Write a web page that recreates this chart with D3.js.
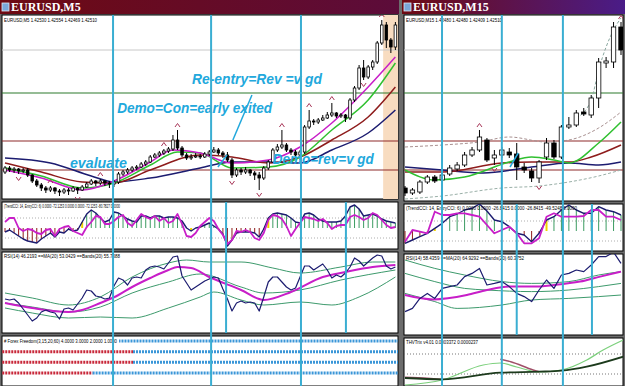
<!DOCTYPE html>
<html>
<head>
<meta charset="utf-8">
<script src="https://cdn.jsdelivr.net/npm/d3@7"></script>
<style>
  body { margin: 0; background: #fff; }
  text { font-family: "Liberation Sans", Arial, sans-serif; }
</style>
</head>
<body>
<svg id="fig" width="625" height="386"></svg>
<script>
// ---------- data ----------

// EURUSD M5 candles: open, high, low, close
const m5Candles = [
  [1.4176,1.4182,1.4174,1.4180],[1.4180,1.4182,1.4176,1.4178],[1.4178,1.4181,1.4175,1.4179],
  [1.4179,1.4180,1.4174,1.4177],[1.4177,1.4180,1.4175,1.4178],[1.4178,1.4180,1.4171,1.4173],
  [1.4173,1.4174,1.4165,1.4167],[1.4167,1.4169,1.4161,1.4163],[1.4163,1.4165,1.4157,1.4160],
  [1.4160,1.4162,1.4155,1.4158],[1.4158,1.4162,1.4156,1.4160],[1.4160,1.4161,1.4154,1.4157],
  [1.4157,1.4159,1.4152,1.4156],[1.4156,1.4160,1.4154,1.4158],[1.4158,1.4160,1.4153,1.4157],
  [1.4157,1.4162,1.4156,1.4160],[1.4160,1.4161,1.4154,1.4158],[1.4158,1.4163,1.4157,1.4161],
  [1.4161,1.4166,1.4160,1.4164],[1.4164,1.4169,1.4163,1.4167],[1.4167,1.4168,1.4162,1.4165],
  [1.4165,1.4169,1.4163,1.4167],[1.4167,1.4168,1.4162,1.4165],[1.4165,1.4167,1.4160,1.4164],
  [1.4164,1.4168,1.4161,1.4166],[1.4166,1.4176,1.4164,1.4174],[1.4174,1.4178,1.4172,1.4176],
  [1.4176,1.4180,1.4174,1.4178],[1.4178,1.4182,1.4176,1.4180],[1.4180,1.4183,1.4178,1.4181],
  [1.4181,1.4186,1.4180,1.4184],[1.4184,1.4188,1.4182,1.4186],[1.4186,1.4193,1.4185,1.4191],
  [1.4191,1.4195,1.4190,1.4193],[1.4193,1.4197,1.4191,1.4195],[1.4195,1.4199,1.4193,1.4197],
  [1.4197,1.4201,1.4195,1.4199],[1.4199,1.4213,1.4197,1.4208],[1.4208,1.4218,1.4198,1.4200],
  [1.4200,1.4202,1.4191,1.4193],[1.4193,1.4195,1.4188,1.4190],[1.4190,1.4194,1.4188,1.4191],
  [1.4191,1.4195,1.4190,1.4192],[1.4192,1.4194,1.4189,1.4191],[1.4191,1.4196,1.4190,1.4194],
  [1.4194,1.4198,1.4192,1.4196],[1.4196,1.4201,1.4195,1.4198],[1.4198,1.4200,1.4193,1.4195],
  [1.4195,1.4197,1.4190,1.4193],[1.4193,1.4196,1.4186,1.4188],[1.4188,1.4190,1.4170,1.4173],
  [1.4173,1.4180,1.4171,1.4178],[1.4178,1.4180,1.4173,1.4176],[1.4176,1.4181,1.4174,1.4178],
  [1.4178,1.4179,1.4172,1.4175],[1.4175,1.4177,1.4168,1.4173],[1.4173,1.4176,1.4158,1.4170],
  [1.4170,1.4182,1.4168,1.4180],[1.4180,1.4188,1.4178,1.4186],[1.4186,1.4200,1.4185,1.4198],
  [1.4198,1.4204,1.4196,1.4201],[1.4201,1.4218,1.4199,1.4203],[1.4203,1.4205,1.4196,1.4198],
  [1.4198,1.4200,1.4193,1.4196],[1.4196,1.4198,1.4190,1.4193],[1.4193,1.4198,1.4188,1.4196],
  [1.4196,1.4223,1.4194,1.4221],[1.4221,1.4238,1.4219,1.4227],[1.4227,1.4229,1.4223,1.4226],
  [1.4226,1.4230,1.4224,1.4228],[1.4228,1.4233,1.4227,1.4230],[1.4230,1.4236,1.4229,1.4233],
  [1.4233,1.4245,1.4231,1.4235],[1.4235,1.4236,1.4230,1.4232],[1.4232,1.4235,1.4230,1.4233],
  [1.4233,1.4234,1.4226,1.4230],[1.4230,1.4250,1.4228,1.4248],[1.4248,1.4262,1.4246,1.4260],
  [1.4260,1.4283,1.4258,1.4280],[1.4280,1.4288,1.4268,1.4271],[1.4271,1.4283,1.4269,1.4281],
  [1.4281,1.4288,1.4278,1.4286],[1.4286,1.4307,1.4284,1.4305],[1.4305,1.4328,1.4303,1.4323],
  [1.4323,1.4326,1.4300,1.4308],[1.4308,1.4310,1.4295,1.4301],[1.4301,1.4326,1.4298,1.4323]
];
const m5FractalUp = [10, 21, 35, 38, 61, 67, 72, 83];
const m5FractalDown = [3, 12, 16, 50, 56, 79];

// moving averages, sampled as [bar, price]
const m5MaNavy = [[0,1.4190],[10,1.4185],[19,1.4172],[24,1.4166],[32,1.4170],[43,1.4180],[50,1.4186],[58,1.4186],[65,1.4185],[72,1.4198],[80,1.4215],[86,1.4238]];
const m5MaBrown = [[0,1.4185],[8,1.4176],[17,1.4166],[24,1.4165],[32,1.4178],[43,1.4193],[50,1.4191],[58,1.4185],[65,1.4191],[72,1.4208],[80,1.4231],[86,1.4261]];
const m5MaGreen = [[0,1.4180],[8,1.4172],[17,1.4160],[24,1.4165],[32,1.4183],[38,1.4196],[43,1.4195],[50,1.4180],[58,1.4181],[65,1.4191],[72,1.4218],[80,1.4248],[86,1.4285]];
const m5MaMagenta = [[0,1.4178],[8,1.4170],[17,1.4158],[24,1.4167],[32,1.4186],[37,1.4198],[43,1.4195],[50,1.4185],[58,1.4188],[65,1.4201],[72,1.4225],[80,1.4261],[86,1.4291]];

const priceLevels = [1.4298, 1.4255, 1.4207, 1.4178];

const m5TrendCci = [-40,-20,-50,-80,-110,-130,-140,-150,-110,-80,-50,-90,-40,-50,-10,-30,-20,60,140,180,
  150,100,60,80,160,150,120,90,70,60,120,120,100,120,120,100,110,110,100,70,
  0,-30,0,10,30,50,20,-10,-60,-180,-120,-50,-40,-40,-40,-50,-90,-10,100,140,
  150,140,130,100,60,50,140,150,130,90,70,60,60,60,70,120,210,230,190,120,
  130,140,120,90,70,60,50];
const m5EntryCci = [60,100,100,0,-30,-10,-20,-50,-60,-20,-10,-80,-10,10,20,-30,-50,-70,10,60,
  120,110,40,40,70,110,130,50,20,80,140,110,90,120,70,100,50,70,140,40,
  -80,-90,-50,20,60,100,70,-10,-70,-160,-120,-30,-40,-20,-40,-100,-120,-50,80,130,
  120,90,20,-80,-10,50,110,100,90,70,90,50,-10,20,30,30,110,130,110,80,
  100,150,130,80,30,0,10];

const m5Rsi = [47,46.5,47,45,42,39,36,37.5,40.5,41.5,40.5,40,37,42,42.5,41.5,44.5,47.5,51.5,51,
  48.5,48,47,47.5,53.5,57.5,56.5,54,57.5,58,57.5,61.5,63,63.5,63,62,65,68,68.5,58.5,
  55,51.5,53,54.5,56,57,58,57.5,52,47,41,45,46,45,45.5,45,41,48,55.5,58,
  58,55.5,53,51.5,52.5,58,63.5,63.5,61.5,63,64.5,61.5,57.5,59,58,60,63,67.5,66,63.5,
  65.5,67.5,69,68.5,63.5,62,63];
const m5RsiMa = [[0,45],[6,42.5],[14,40.5],[17,41.5],[21,45],[25,49],[28,53],[32,57.5],[36,61.5],[38,63],[41,62.5],[45,58],[52,51.5],[57,46.5],[63,50.5],[70,58],[75,60.5],[81,63],[86,64]];
const m5BandUp = [[0,50],[6,47.5],[14,44],[21,48],[28,58],[36,65],[40,66.5],[45,65.5],[52,65.5],[59,62.5],[65,60],[74,63],[81,65.5],[86,65.5]];
const m5BandMid = [[0,45],[6,43],[14,40.5],[21,43],[28,50],[36,55.5],[43,59.5],[52,53],[57,50],[65,51.5],[74,56.5],[86,61.5]];
const m5BandLow = [[0,42.5],[6,40],[14,37.5],[21,38],[28,37.5],[36,42.5],[43,48],[46,50.5],[52,46.5],[57,44],[65,45.5],[72,44],[78,48],[86,58]];

// Forex Freedom rows: [direction, fromBar, toBar]  (1 up / -1 down)
const ffRows = [
  [[1, 25, 87]],
  [[-1, -0.6, 28.2], [1, 28.2, 87]],
  [[-1, -0.6, 28.2], [1, 28.2, 87]],
  [[-1, -0.6, 19.3], [1, 19.3, 87]]
];

// EURUSD M15
const m15Candles = [
  [1.4160,1.4162,1.4152,1.4155],[1.4155,1.4160,1.4153,1.4158],[1.4156,1.4168,1.4154,1.4166],
  [1.4166,1.4173,1.4164,1.4171],[1.4171,1.4173,1.4165,1.4167],[1.4168,1.4176,1.4166,1.4173],
  [1.4174,1.4183,1.4172,1.4180],[1.4179,1.4186,1.4177,1.4183],[1.4183,1.4196,1.4181,1.4193],
  [1.4193,1.4201,1.4191,1.4198],[1.4198,1.4218,1.4196,1.4211],[1.4208,1.4210,1.4186,1.4188],
  [1.4190,1.4198,1.4183,1.4193],[1.4193,1.4201,1.4190,1.4198],[1.4196,1.4200,1.4190,1.4193],
  [1.4194,1.4205,1.4168,1.4181],[1.4181,1.4185,1.4175,1.4178],[1.4177,1.4180,1.4166,1.4170],
  [1.4170,1.4188,1.4165,1.4186],[1.4191,1.4210,1.4188,1.4205],[1.4205,1.4208,1.4189,1.4191],
  [1.4191,1.4223,1.4189,1.4221],[1.4221,1.4231,1.4219,1.4223],[1.4223,1.4238,1.4221,1.4235],
  [1.4236,1.4240,1.4232,1.4234],[1.4233,1.4253,1.4230,1.4250],[1.4250,1.4290,1.4240,1.4286],
  [1.4285,1.4291,1.4280,1.4287],[1.4286,1.4326,1.4280,1.4321],[1.4321,1.4326,1.4293,1.4298]
];
const m15FractalUp = [10, 29];
const m15FractalDown = [12, 18];
const m15MaNavy = [[0,1.4181],[5,1.4178],[10.5,1.4175],[17,1.4181],[22,1.4185],[26,1.4183],[29,1.4186]];
const m15MaBrown = [[0,1.4176],[5,1.4176],[13,1.4185],[17,1.4186],[22,1.4186],[25,1.4191],[29,1.4203]];
const m15MaGreen = [[0,1.4178],[4,1.4168],[8,1.4171],[14,1.4186],[17,1.4191],[20,1.4188],[22,1.4185],[26,1.4205],[29,1.4226]];
const m15BandUp = [[0,1.4201],[5,1.4203],[10,1.4206],[14,1.4211],[19,1.4206],[22,1.4208],[26,1.4220],[29,1.4236]];
const m15BandLow = [[0,1.4149],[5,1.4152],[13,1.4160],[18,1.4162],[22,1.4166],[26,1.4172],[29,1.4178]];
const m15BandFast = [[23,1.4230],[25,1.4248],[26,1.4278],[28,1.4318],[29,1.4330]];

const m15TrendCci = [-123,-90,-57,-23,27,77,143,170,210,227,270,200,110,93,43,-23,-40,-107,-23,110,
  143,210,260,210,177,177,243,210,193,160];
const m15EntryCci = [-107,10,-7,-23,193,160,160,177,177,160,143,60,-23,10,43,-23,-123,-123,-73,143,
  177,143,143,143,150,210,210,143,143,110];

const m15Rsi = [42.7,44.3,49.3,51.8,49.3,54.3,55.2,56,60.2,61.8,64.3,56,56.8,57.7,55.2,51.8,50.2,47.7,53.5,58.5,
  54.3,61,61.8,63.5,62.7,66,70.2,70.2,72.4,66.8];
const m15RsiMa = [[0,51],[3.8,48.8],[8.3,51],[11,53.5],[14,55.2],[17.2,55.2],[20,56],[23.5,57.7],[26.2,60.2],[29,62.7]];
const m15BandRsiUp = [[0,68.5],[4,64.3],[8,61],[13,57.7],[17,56.8],[22,57.7],[26,61],[29,62.7]];
const m15BandRsiMid = [[0,61.8],[4,57.7],[8,54.3],[11,53.5],[17,52.7],[22,53.5],[26,55.2],[29,56.8]];
const m15BandRsiLow = [[0,51.8],[4,47.7],[7,44.3],[13,46],[17,48.5],[22,49.3],[26,50.2],[29,51]];

const thvFast = [[0,0.1],[5,0.6],[10.5,2.1],[12.8,2.3],[15,1.9],[18,1.4],[21,1.6],[24.4,2.6],[26.6,3.6],[29.3,4.6]];
const thvTrix = [[0,0.8],[5,0.67],[12.8,1.33],[18,1.43],[21,1.53],[24.4,1.93],[29.3,2.93]];
const thvSignalA = [[0,0.87],[3,0.77],[5,0.67]];
const thvSignalB = [[12.8,2.67],[14.2,2.43],[17.2,1.6],[18,1.43]];

// marked times (bar positions) of the vertical lines
const m5FullLines = [23.8, 45.4, 65.2];
const m5SubLines = [48.7, 75.1];
const m15FullLines = [4.97, 13.0, 21.2];
const m15SubLines = [15.0, 25.1];
const m5Shade = [83.3, 88];

const notes = [
  { t: "Re-entry=Rev =v gd", bar: 41.2, p: 1.4264, w: 130 },
  { t: "Demo=Con=early exited", bar: 24.7, p: 1.4235, w: 155 },
  { t: "evaluate", bar: 14.3, p: 1.4180, w: 57 },
  { t: "Demo=rev=v gd", bar: 59.0, p: 1.4184, w: 101 }
];
const m5Pointers = [[[54.4,1.4253],[50.2,1.4208]], [[46.9,1.4181],[48.9,1.4193]]];
const m15Pointers = [[[14.1,1.4181],[15.2,1.4195]]];

function makeChart() {
  const svg = d3.select("#fig");
  const defs = svg.append("defs");

  const C = {
    navy: "#1c1c70", brown: "#8e1c1c", green: "#30c030", magenta: "#c81ec8",
    cyan: "#3aaed2", band: "#3d9a6c", red: "#c8283a", blue: "#3a96d8",
    histUp: "#3c9c62", histDn: "#8e1c1c", yellow: "#f0d200", frac: "#a83658"
  };

  // frame
  svg.append("rect").attr("width", 625).attr("height", 386).attr("fill", "#6c6c6c");

  function titleBar(x0, x1, label, gid, c2) {
    const gr = defs.append("linearGradient").attr("id", gid);
    gr.append("stop").attr("offset", "0%").attr("stop-color", "#6e0a12");
    gr.append("stop").attr("offset", "100%").attr("stop-color", c2);
    svg.append("rect").attr("x", x0).attr("y", 0).attr("width", x1 - x0).attr("height", 14)
      .attr("fill", `url(#${gid})`);
    svg.append("rect").attr("x", x0 + 2).attr("y", 3).attr("width", 7).attr("height", 8)
      .attr("fill", "#7aa8d8").attr("stroke", "#dfe8f5").attr("stroke-width", 0.8);
    svg.append("text").attr("x", x0 + 11).attr("y", 11).text(label)
      .attr("fill", "#fff").attr("font-size", 12).attr("font-weight", "bold")
      .style("font-family", "'Liberation Serif', 'DejaVu Serif', serif");
  }
  titleBar(0, 399, "EURUSD,M5", "tg1", "#5c0c3a");
  titleBar(402, 625, "EURUSD,M15", "tg2", "#4a1c88");

  let clipN = 0;
  function panel(x0, x1, y0, y1) {
    const id = "clip" + (clipN++);
    defs.append("clipPath").attr("id", id).append("rect")
      .attr("x", x0).attr("y", y0).attr("width", x1 - x0).attr("height", y1 - y0);
    svg.append("rect").attr("x", x0).attr("y", y0).attr("width", x1 - x0).attr("height", y1 - y0)
      .attr("fill", "#fff").attr("stroke", "#000").attr("stroke-width", 1);
    return svg.append("g").attr("clip-path", `url(#${id})`);
  }

  function smallLabel(x, y, txt, w) {
    svg.append("text").attr("x", x).attr("y", y).text(txt)
      .attr("font-size", 5.2).attr("fill", "#000")
      .attr("textLength", w).attr("lengthAdjust", "spacingAndGlyphs");
  }

  const sampled = (x, y) => d3.line().x(d => x(d[0])).y(d => y(d[1])).curve(d3.curveMonotoneX);
  const series = (x, y) => d3.line().x((d, i) => x(i)).y(d => y(d));

  function drawLine(g, data, gen, color, w, dash) {
    g.append("path").attr("d", gen(data)).attr("fill", "none")
      .attr("stroke", color).attr("stroke-width", w)
      .attr("stroke-dasharray", dash || null).attr("stroke-linejoin", "round");
  }

  function drawCandles(g, data, x, y, bw) {
    g.append("g").selectAll("line").data(data).join("line")
      .attr("x1", (d, i) => x(i)).attr("x2", (d, i) => x(i))
      .attr("y1", d => y(d[1])).attr("y2", d => y(d[2]))
      .attr("stroke", "#000").attr("stroke-width", 1);
    g.append("g").selectAll("rect").data(data).join("rect")
      .attr("x", (d, i) => x(i) - bw / 2).attr("width", bw)
      .attr("y", d => y(Math.max(d[0], d[3])))
      .attr("height", d => Math.max(1, Math.abs(y(d[0]) - y(d[3]))))
      .attr("fill", d => d[3] >= d[0] ? "#fff" : "#000")
      .attr("stroke", "#000").attr("stroke-width", 0.8);
  }

  function drawFractals(g, candles, ups, downs, x, y) {
    g.append("g").selectAll("path").data(ups).join("path")
      .attr("d", i => { const cx = x(i), cy = y(candles[i][1]) - 5;
        return `M${cx - 2.5},${cy + 2}L${cx},${cy - 1.5}L${cx + 2.5},${cy + 2}`; })
      .attr("fill", "none").attr("stroke", C.frac).attr("stroke-width", 1);
    g.append("g").selectAll("path").data(downs).join("path")
      .attr("d", i => { const cx = x(i), cy = y(candles[i][2]) + 5;
        return `M${cx - 2.5},${cy - 2}L${cx},${cy + 1.5}L${cx + 2.5},${cy - 2}`; })
      .attr("fill", "none").attr("stroke", C.frac).attr("stroke-width", 1);
  }

  function drawLevels(g, x0, x1, y) {
    const cols = ["#c8c8c8", "#2c7a2c", "#8e2a2a", "#8e2a2a"];
    g.append("g").selectAll("line").data(priceLevels).join("line")
      .attr("x1", x0).attr("x2", x1).attr("y1", d => y(d)).attr("y2", d => y(d))
      .attr("stroke", (d, i) => cols[i]).attr("stroke-width", (d, i) => i ? 1.2 : 1);
  }

  function drawCci(g, trend, entry, x, y, x0, x1) {
    g.append("g").selectAll("line").data([-100, 100]).join("line")
      .attr("x1", x0).attr("x2", x1).attr("y1", d => y(d)).attr("y2", d => y(d))
      .attr("stroke", "#999").attr("stroke-dasharray", "1,2").attr("stroke-width", 0.8);
    g.append("g").selectAll("line").data(trend).join("line")
      .attr("x1", (d, i) => x(i)).attr("x2", (d, i) => x(i))
      .attr("y1", y(0)).attr("y2", d => y(d))
      .attr("stroke", (d, i) => {
        const prev = i ? trend[i - 1] : d;
        if (Math.sign(prev) !== Math.sign(d)) return C.yellow;
        return d >= 0 ? C.histUp : C.histDn;
      })
      .attr("stroke-width", (d, i) => (i && Math.sign(trend[i - 1]) !== Math.sign(d)) ? 2 : 1);
    drawLine(g, trend, series(x, y), C.navy, 1.4);
    drawLine(g, entry, series(x, y), C.magenta, 1.8);
  }

  function vlines(bars, x, y0, y1) {
    svg.append("g").selectAll("line").data(bars).join("line")
      .attr("x1", d => x(d)).attr("x2", d => x(d)).attr("y1", y0).attr("y2", y1)
      .attr("stroke", C.cyan).attr("stroke-width", 2);
  }

  // ================= M5 window =================
  const xL = d3.scaleLinear().domain([0, 86]).range([5, 395.4]);
  const yP = d3.scaleLinear().domain([1.4150, 1.4333]).range([198, 15]);

  const gMain = panel(2, 398, 15, 199);
  gMain.append("rect").attr("x", xL(m5Shade[0])).attr("y", 15)
    .attr("width", xL(m5Shade[1]) - xL(m5Shade[0])).attr("height", 184).attr("fill", "#f8dcc0");
  drawLevels(gMain, 2, 398, yP);
  drawLine(gMain, m5MaNavy, sampled(xL, yP), C.navy, 1.5);
  drawLine(gMain, m5MaBrown, sampled(xL, yP), C.brown, 1.5);
  drawLine(gMain, m5MaGreen, sampled(xL, yP), C.green, 1.5);
  drawLine(gMain, m5MaMagenta, sampled(xL, yP), C.magenta, 1.5);
  drawCandles(gMain, m5Candles, xL, yP, 2.6);
  drawFractals(gMain, m5Candles, m5FractalUp, m5FractalDown, xL, yP);
  smallLabel(4, 22, "EURUSD,M5  1.42530 1.42554 1.42469 1.42510", 93);

  // CCI
  const yCL = d3.scaleLinear().domain([-210, 260]).range([249, 202]);
  const gCciL = panel(2, 398, 202, 249);
  drawCci(gCciL, m5TrendCci, m5EntryCci, xL, yCL, 2, 398);
  smallLabel(4, 208, "(TrendCCI: 14, EntryCCI: 6) 0.0000 -72.1253 0.0000 0.0000 -72.1253 -80.7827 0.0000", 116);

  // RSI
  const yRL = d3.scaleLinear().domain([30, 71]).range([333, 251]);
  const gRsiL = panel(2, 398, 252, 333);
  drawLine(gRsiL, m5BandUp, sampled(xL, yRL), C.band, 1);
  drawLine(gRsiL, m5BandMid, sampled(xL, yRL), C.band, 1);
  drawLine(gRsiL, m5BandLow, sampled(xL, yRL), C.band, 1);
  drawLine(gRsiL, m5RsiMa, sampled(xL, yRL), C.magenta, 2);
  drawLine(gRsiL, m5Rsi, series(xL, yRL), C.navy, 1.2);
  smallLabel(4, 258, "RSI(14) 46.2193   ==MA(20) 53.0429   ==Bands(20) 55.7088", 116);

  // Forex Freedom
  const gFF = panel(2, 398, 336, 386);
  const yRow = d3.scalePoint().domain([0, 1, 2, 3]).range([341, 373]);
  ffRows.forEach((runs, r) => {
    gFF.append("g").selectAll("line").data(runs).join("line")
      .attr("x1", d => xL(d[1])).attr("x2", d => xL(d[2]))
      .attr("y1", yRow(r)).attr("y2", yRow(r))
      .attr("stroke", d => d[0] > 0 ? C.blue : C.red)
      .attr("stroke-width", 3).attr("stroke-dasharray", "2,1");
  });
  svg.append("rect").attr("x", 3).attr("y", 338).attr("width", 116).attr("height", 6).attr("fill", "#fff");
  smallLabel(4, 343, "# Forex Freedom(3,15,20,60) 4.0000 3.0000 2.0000 1.0000", 113);

  // annotations
  svg.append("g").selectAll("text").data(notes).join("text")
    .attr("x", d => xL(d.bar)).attr("y", d => yP(d.p)).text(d => d.t)
    .attr("fill", "#22a8dc").attr("font-size", 14).attr("font-weight", "bold")
    .attr("font-style", "italic").attr("textLength", d => d.w).attr("lengthAdjust", "spacingAndGlyphs");
  svg.append("g").selectAll("line").data(m5Pointers).join("line")
    .attr("x1", d => xL(d[0][0])).attr("y1", d => yP(d[0][1]))
    .attr("x2", d => xL(d[1][0])).attr("y2", d => yP(d[1][1]))
    .attr("stroke", "#22a8dc").attr("stroke-width", 1.5);

  vlines(m5FullLines, xL, 15, 386);
  vlines(m5SubLines, xL, 202, 333);

  // ================= M15 window =================
  const xR = d3.scaleLinear().domain([0, 29]).range([405, 621]);

  const gMainR = panel(404, 623, 15, 201);
  drawLevels(gMainR, 404, 623, yP);
  drawLine(gMainR, m15BandUp, sampled(xR, yP), "#a89090", 1, "3,2");
  drawLine(gMainR, m15BandLow, sampled(xR, yP), "#9ab0a8", 1, "3,2");
  drawLine(gMainR, m15BandFast, sampled(xR, yP), "#8aa8a0", 1, "3,2");
  drawLine(gMainR, m15MaNavy, sampled(xR, yP), C.navy, 1.5);
  drawLine(gMainR, m15MaBrown, sampled(xR, yP), C.brown, 1.5);
  drawLine(gMainR, m15MaGreen, sampled(xR, yP), C.green, 1.5);
  drawCandles(gMainR, m15Candles, xR, yP, 4.4);
  drawFractals(gMainR, m15Candles, m15FractalUp, m15FractalDown, xR, yP);
  smallLabel(406, 22, "EURUSD,M15  1.42480 1.42480 1.42409 1.42510", 96);
  svg.append("g").selectAll("line").data(m15Pointers).join("line")
    .attr("x1", d => xR(d[0][0])).attr("y1", d => yP(d[0][1]))
    .attr("x2", d => xR(d[1][0])).attr("y2", d => yP(d[1][1]))
    .attr("stroke", "#22a8dc").attr("stroke-width", 1.5);

  const yCR = d3.scaleLinear().domain([-200, 270]).range([251, 204]);
  const gCciR = panel(404, 623, 204, 251);
  drawCci(gCciR, m15TrendCci, m15EntryCci, xR, yCR, 404, 623);
  smallLabel(406, 210, "(TrendCCI: 14, EntryCCI: 6) 0.0000 0.0000 -26.8415 0.0000 -26.8415 -49.5248 0.0000", 171);

  const yRR = d3.scaleLinear().domain([30, 72.5]).range([337, 252]);
  const gRsiR = panel(404, 623, 254, 335);
  drawLine(gRsiR, m15BandRsiUp, sampled(xR, yRR), C.band, 1);
  drawLine(gRsiR, m15BandRsiMid, sampled(xR, yRR), C.band, 1);
  drawLine(gRsiR, m15BandRsiLow, sampled(xR, yRR), C.band, 1);
  drawLine(gRsiR, m15RsiMa, sampled(xR, yRR), C.magenta, 2);
  drawLine(gRsiR, m15Rsi, series(xR, yRR), C.navy, 1.2);
  smallLabel(406, 260, "RSI(14) 58.4359   ==MA(20) 64.9292   ==Bands(20) 60.3752", 118);

  const yT = d3.scaleLinear().domain([0, 5]).range([386, 336]);
  const gThv = panel(404, 623, 338, 386);
  gThv.append("g").selectAll("line").data([1.2, 3.2]).join("line")
    .attr("x1", 404).attr("x2", 623).attr("y1", d => yT(d)).attr("y2", d => yT(d))
    .attr("stroke", "#777").attr("stroke-dasharray", "1,2");
  drawLine(gThv, thvFast, sampled(xR, yT), "#7cd07c", 1.2);
  drawLine(gThv, thvSignalA, sampled(xR, yT), "#a05068", 1.5);
  drawLine(gThv, thvSignalB, sampled(xR, yT), "#a05068", 1.5);
  drawLine(gThv, thvTrix, sampled(xR, yT), "#1c3a1c", 1.8);
  smallLabel(406, 344, "THVTrix v4.01 0.0003372 0.0000237", 72);

  vlines(m15FullLines, xR, 15, 386);
  vlines(m15SubLines, xR, 204, 335);
}
makeChart();
</script>
</body>
</html>
